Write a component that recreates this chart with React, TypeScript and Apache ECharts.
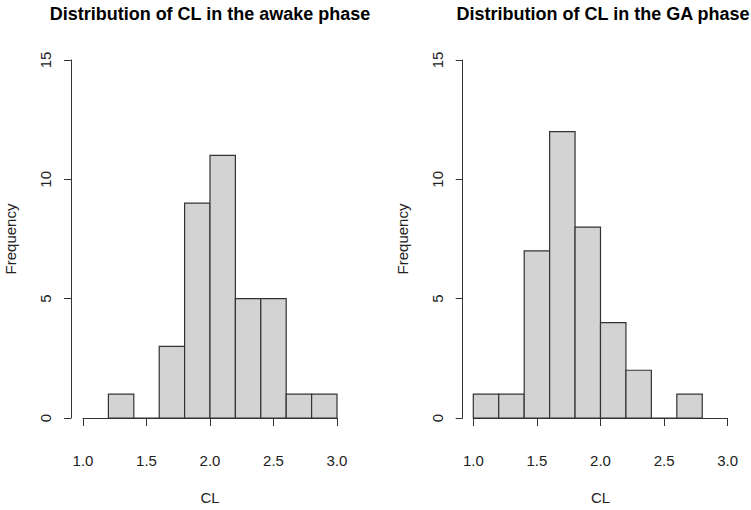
import React, { useEffect, useRef } from "react";
import * as echarts from "echarts";

const binWidth = 0.2;
const awakeBinStarts = [1.2, 1.4, 1.6, 1.8, 2.0, 2.2, 2.4, 2.6, 2.8];
const awakeCounts = [1, 0, 3, 9, 11, 5, 5, 1, 1];
const gaBinStarts = [1.0, 1.2, 1.4, 1.6, 1.8, 2.0, 2.2, 2.4, 2.6];
const gaCounts = [1, 1, 7, 12, 8, 4, 2, 0, 1];
const titles = ["Distribution of CL in the awake phase", "Distribution of CL in the GA phase"];
const xName = "CL";
const yName = "Frequency";

const FONT = "Liberation Sans, Arial, sans-serif";
const TXT = "#222";
const FS = 15;

function histData(starts: number[], counts: number[]) {
  return starts.map((s, i) => [s, s + binWidth, counts[i]]);
}

function renderBar(params: any, api: any) {
  const x0 = api.value(0);
  const x1 = api.value(1);
  const c = api.value(2);
  const p0 = api.coord([x0, c]);
  const p1 = api.coord([x1, 0]);
  return {
    type: "rect",
    shape: { x: p0[0], y: p0[1], width: p1[0] - p0[0], height: p1[1] - p0[1] },
    style: { fill: "#D3D3D3", stroke: "#333", lineWidth: 1.2 },
  };
}

export default function App() {
  const ref = useRef<HTMLDivElement>(null);
  useEffect(() => {
    if (!ref.current) return;
    const chart = echarts.init(ref.current, null, { renderer: "svg" });
    const grids = [
      { left: 83, top: 60, width: 254, height: 363 },
      { left: 473.3, top: 60, width: 254.4, height: 363 },
    ];
    const xAxis = grids.map((_, i) => ({
      type: "value",
      gridIndex: i,
      min: 1,
      max: 3,
      interval: 0.5,
      offset: 14,
      name: xName,
      nameLocation: "middle",
      nameGap: 58,
      nameTextStyle: { fontFamily: FONT, fontSize: FS, color: TXT },
      axisLine: { show: true, lineStyle: { color: "#333", width: 1 } },
      axisTick: { show: true, length: 8, lineStyle: { color: "#333", width: 1 } },
      axisLabel: {
        fontFamily: FONT,
        fontSize: FS,
        color: TXT,
        margin: 21,
        formatter: (v: number) => v.toFixed(1),
      },
      splitLine: { show: false },
    }));
    const yAxis = grids.map((_, i) => ({
      type: "value",
      gridIndex: i,
      min: 0,
      max: 15,
      interval: 5,
      offset: i === 0 ? 12 : 10.6,
      name: yName,
      nameLocation: "middle",
      nameGap: 53,
      nameTextStyle: { fontFamily: FONT, fontSize: FS, color: TXT },
      axisLine: { show: true, lineStyle: { color: "#333", width: 1 } },
      axisTick: { show: true, length: 7, lineStyle: { color: "#333", width: 1 } },
      axisLabel: {
        fontFamily: FONT,
        fontSize: FS,
        color: TXT,
        rotate: 90,
        margin: 18,
      },
      splitLine: { show: false },
    }));
    chart.setOption({
      animation: false,
      backgroundColor: "#fff",
      title: [
        {
          text: titles[0],
          left: 205,
          top: 0,
          textAlign: "center",
          textStyle: { fontFamily: FONT, fontSize: 18, fontWeight: "bold", color: "#000" },
        },
        {
          text: titles[1],
          left: 598,
          top: 0,
          textAlign: "center",
          textStyle: { fontFamily: FONT, fontSize: 18, fontWeight: "bold", color: "#000" },
        },
      ],
      grid: grids,
      xAxis,
      yAxis,
      series: [
        {
          type: "custom",
          xAxisIndex: 0,
          yAxisIndex: 0,
          renderItem: renderBar,
          data: histData(awakeBinStarts, awakeCounts),
          encode: { x: [0, 1], y: 2 },
        },
        {
          type: "custom",
          xAxisIndex: 1,
          yAxisIndex: 1,
          renderItem: renderBar,
          data: histData(gaBinStarts, gaCounts),
          encode: { x: [0, 1], y: 2 },
        },
      ],
    });
    return () => chart.dispose();
  }, []);
  return (
    <div
      ref={ref}
      style={{ position: "fixed", left: 0, top: 0, width: 751, height: 510, background: "#fff" }}
    />
  );
}
